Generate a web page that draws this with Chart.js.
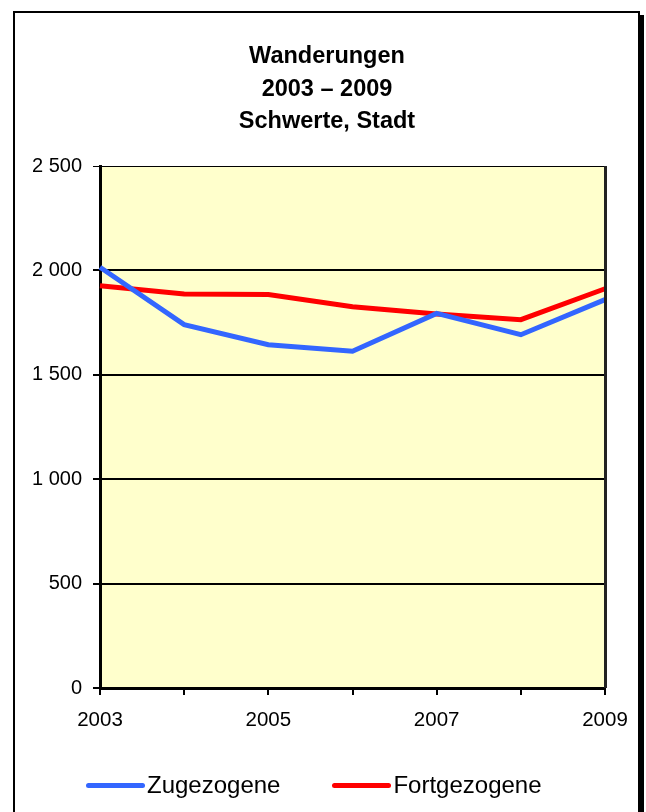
<!DOCTYPE html>
<html>
<head>
<meta charset="utf-8">
<script src="https://cdn.jsdelivr.net/npm/chart.js@4/dist/chart.umd.min.js"></script>
<style>
body{margin:0;background:#fff;}
#wrap{position:relative;width:646px;height:812px;overflow:hidden;font-family:"Liberation Sans",Arial,sans-serif;}
#frame{position:absolute;left:13px;top:11px;width:623px;height:830px;border:2px solid #000;box-shadow:4px 4px 0 #000;}
#chart{position:absolute;left:0;top:0;}
#legend{position:absolute;left:86px;top:771px;display:flex;align-items:center;font-size:24px;color:#000;}
.item{display:flex;align-items:center;margin-right:52px;}
.swatch{width:59px;height:5px;border-radius:3px;margin-right:2px;}
</style>
</head>
<body>
<div id="wrap">
<div id="frame"></div>
<canvas id="chart" width="646" height="812"></canvas>
<div id="legend"></div>
</div>
<script>
// DATA
const years=["2003","2004","2005","2006","2007","2008","2009"];
const zugezogene=[2015,1740,1644,1613,1794,1692,1860];
const fortgezogene=[1927,1887,1884,1826,1791,1764,1912];
const titleLines=["Wanderungen","2003 – 2009","Schwerte, Stadt"];

const FONT="'Liberation Sans', Arial, sans-serif";

// PLOT BACKGROUND + BORDERS + TITLE (title centred on the frame, not the plot)
const plotBox={
id:"plotBox",
beforeDraw(chart){
const {ctx,chartArea:a}=chart;
ctx.save();
ctx.fillStyle="#FFFFCC";
ctx.fillRect(a.left,a.top,a.right-a.left,a.bottom-a.top);
ctx.restore();
},
afterDatasetsDraw(chart){
const {ctx,chartArea:a}=chart;
ctx.save();
ctx.strokeStyle="#222";
ctx.lineWidth=3;
ctx.beginPath();
ctx.moveTo(a.right+0.5,a.top);
ctx.lineTo(a.right+0.5,a.bottom);
ctx.stroke();
ctx.restore();
},
afterDraw(chart){
const ctx=chart.ctx;
ctx.save();
ctx.fillStyle="#000";
ctx.font="bold 23.5px "+FONT;
ctx.textAlign="center";
ctx.textBaseline="middle";
titleLines.forEach((t,i)=>ctx.fillText(t,327,57+i*32.5));
ctx.restore();
}
};

const chart=new Chart(document.getElementById("chart"),{
type:"line",
data:{
labels:years,
datasets:[
{label:"Zugezogene",data:zugezogene,borderColor:"#3366FF",backgroundColor:"#3366FF",borderWidth:5,pointRadius:0,tension:0},
{label:"Fortgezogene",data:fortgezogene,borderColor:"#FF0000",backgroundColor:"#FF0000",borderWidth:5,pointRadius:0,tension:0}
]
},
options:{
responsive:false,
animation:false,
layout:{padding:{left:0,right:41,top:166,bottom:74}},
plugins:{
legend:{display:false},
tooltip:{enabled:false},
title:{display:false}
},
scales:{
x:{
offset:false,
afterFit(s){s.height=50;},
grid:{drawOnChartArea:false,color:"#000",lineWidth:2,tickLength:7},
border:{color:"#000",width:3},
ticks:{
autoSkip:false,maxRotation:0,color:"#000",padding:13,
font:{family:FONT,size:20.5},
callback(v,i){return i%2===0?this.getLabelForValue(v):"";}
}
},
y:{
min:0,max:2500,
afterFit(s){s.width=100;},
grid:{color:"#000",lineWidth:(c)=>c.tick&&c.tick.value===2500?1:2,tickLength:7},
border:{color:"#000",width:3},
ticks:{
stepSize:500,color:"#000",padding:11,
font:{family:FONT,size:20},
callback(v){return String(v).replace(/\B(?=(\d{3})+(?!\d))/g," ");}
}
}
}
},
plugins:[plotBox]
});

// HTML LEGEND
const legend=document.getElementById("legend");
chart.data.datasets.forEach(ds=>{
const item=document.createElement("div");
item.className="item";
item.innerHTML='<span class="swatch" style="background:'+ds.borderColor+'"></span><span>'+ds.label+'</span>';
legend.appendChild(item);
});
</script>
</body>
</html>
